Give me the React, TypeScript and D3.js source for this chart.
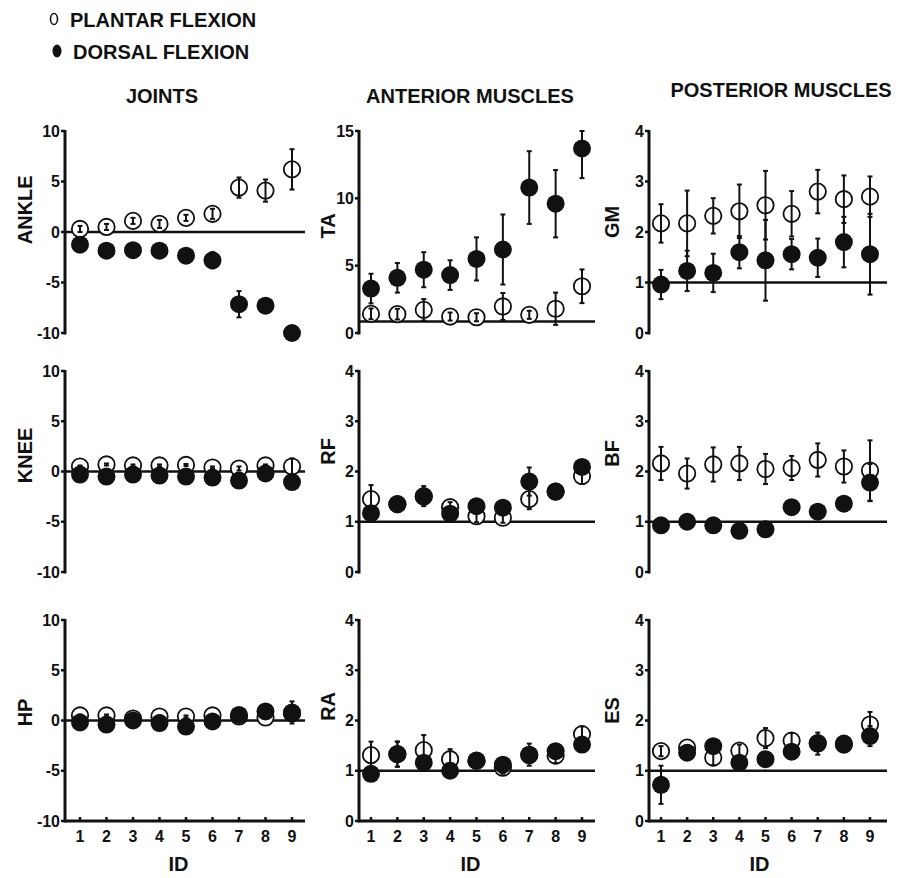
import React from 'react';
import * as d3 from 'd3';

// subject ids on the x axis
const ids = [1, 2, 3, 4, 5, 6, 7, 8, 9];

// JOINTS (deg)
const ankleOpen = [0.3, 0.5, 1.1, 0.8, 1.4, 1.8, 4.4, 4.1, 6.2];
const ankleOpenErr = [0.3, 0.3, 0.3, 0.4, 0.3, 0.5, 1.0, 1.1, 2.0];
const ankleFilled = [-1.25, -1.85, -1.8, -1.85, -2.35, -2.8, -7.15, -7.3, -10.0];
const ankleFilledErr = [0.2, 0.2, 0.2, 0.2, 0.2, 0.8, 1.3, 0.2, 0.2];

const kneeOpen = [0.5, 0.7, 0.6, 0.6, 0.65, 0.4, 0.3, 0.6, 0.5];
const kneeOpenErr = [0.1, 0.1, 0.1, 0.1, 0.1, 0.1, 0.2, 0.1, 0.8];
const kneeFilled = [-0.3, -0.5, -0.3, -0.4, -0.5, -0.6, -0.9, -0.2, -1.05];
const kneeFilledErr = [0.1, 0.4, 0.3, 0.2, 0.4, 0.1, 0.2, 0.3, 0.7];

const hipOpen = [0.5, 0.5, 0.2, 0.4, 0.4, 0.5, 0.4, 0.3, 0.7];
const hipOpenErr = [0.1, 0.1, 0.1, 0.1, 0.1, 0.1, 0.1, 0.1, 0.1];
const hipFilled = [-0.2, -0.4, 0.0, -0.25, -0.6, -0.1, 0.55, 0.9, 0.8];
const hipFilledErr = [0.1, 0.1, 0.1, 0.1, 0.1, 0.1, 0.1, 0.2, 1.1];

// ANTERIOR MUSCLES
const taOpen = [1.42, 1.4, 1.72, 1.22, 1.17, 1.97, 1.35, 1.8, 3.47];
const taOpenErr = [0.4, 0.4, 0.8, 0.3, 0.3, 1.0, 0.3, 1.2, 1.25];
const taFilled = [3.3, 4.1, 4.7, 4.3, 5.5, 6.2, 10.8, 9.6, 13.7];
const taFilledErr = [1.1, 1.1, 1.3, 1.1, 1.6, 2.6, 2.7, 2.5, 2.2];

const rfOpen = [1.45, 1.35, 1.5, 1.29, 1.11, 1.08, 1.45, 1.6, 1.91];
const rfOpenErr = [0.28, 0.05, 0.05, 0.1, 0.12, 0.1, 0.2, 0.05, 0.16];
const rfFilled = [1.17, 1.35, 1.51, 1.16, 1.31, 1.28, 1.8, 1.6, 2.09];
const rfFilledErr = [0.1, 0.05, 0.2, 0.05, 0.05, 0.05, 0.28, 0.05, 0.05];

const raOpen = [1.31, 1.33, 1.41, 1.23, 1.2, 1.06, 1.31, 1.3, 1.73];
const raOpenErr = [0.27, 0.25, 0.3, 0.2, 0.1, 0.12, 0.1, 0.15, 0.15];
const raFilled = [0.94, 1.33, 1.16, 1.0, 1.2, 1.12, 1.32, 1.39, 1.52];
const raFilledErr = [0.05, 0.25, 0.1, 0.05, 0.05, 0.05, 0.22, 0.05, 0.05];

// POSTERIOR MUSCLES
const gmOpen = [2.17, 2.17, 2.32, 2.41, 2.53, 2.36, 2.8, 2.65, 2.7];
const gmOpenErr = [0.38, 0.65, 0.35, 0.53, 0.68, 0.45, 0.43, 0.47, 0.4];
const gmFilled = [0.96, 1.23, 1.19, 1.6, 1.44, 1.56, 1.49, 1.8, 1.56];
const gmFilledErr = [0.29, 0.4, 0.38, 0.32, 0.8, 0.3, 0.38, 0.5, 0.8];

const bfOpen = [2.16, 1.96, 2.14, 2.16, 2.05, 2.07, 2.23, 2.1, 2.02];
const bfOpenErr = [0.33, 0.3, 0.34, 0.33, 0.3, 0.24, 0.33, 0.32, 0.6];
const bfFilled = [0.93, 1.0, 0.93, 0.82, 0.85, 1.29, 1.2, 1.36, 1.78];
const bfFilledErr = [0.05, 0.05, 0.05, 0.05, 0.05, 0.05, 0.05, 0.05, 0.37];

const esOpen = [1.39, 1.46, 1.26, 1.4, 1.65, 1.6, 1.55, 1.52, 1.92];
const esOpenErr = [0.1, 0.05, 0.15, 0.12, 0.2, 0.15, 0.05, 0.05, 0.25];
const esFilled = [0.72, 1.36, 1.49, 1.16, 1.23, 1.38, 1.54, 1.54, 1.69];
const esFilledErr = [0.38, 0.05, 0.05, 0.05, 0.05, 0.05, 0.22, 0.05, 0.2];

const columnTitles = ['JOINTS', 'ANTERIOR MUSCLES', 'POSTERIOR MUSCLES'];
const legendLabels = ['PLANTAR FLEXION', 'DORSAL FLEXION'];

type Panel = {
  name: string;
  col: number;
  row: number;
  domain: [number, number];
  ticks: number[];
  ref: number;
  open: number[];
  openErr: number[];
  filled: number[];
  filledErr: number[];
};

const jointTicks = [-10, -5, 0, 5, 10];
const muscleTicks = [0, 1, 2, 3, 4];

const panels: Panel[] = [
  { name: 'ANKLE', col: 0, row: 0, domain: [-10, 10], ticks: jointTicks, ref: 0, open: ankleOpen, openErr: ankleOpenErr, filled: ankleFilled, filledErr: ankleFilledErr },
  { name: 'KNEE', col: 0, row: 1, domain: [-10, 10], ticks: jointTicks, ref: 0, open: kneeOpen, openErr: kneeOpenErr, filled: kneeFilled, filledErr: kneeFilledErr },
  { name: 'HP', col: 0, row: 2, domain: [-10, 10], ticks: jointTicks, ref: 0, open: hipOpen, openErr: hipOpenErr, filled: hipFilled, filledErr: hipFilledErr },
  { name: 'TA', col: 1, row: 0, domain: [0, 15], ticks: [0, 5, 10, 15], ref: 0.85, open: taOpen, openErr: taOpenErr, filled: taFilled, filledErr: taFilledErr },
  { name: 'RF', col: 1, row: 1, domain: [0, 4], ticks: muscleTicks, ref: 1, open: rfOpen, openErr: rfOpenErr, filled: rfFilled, filledErr: rfFilledErr },
  { name: 'RA', col: 1, row: 2, domain: [0, 4], ticks: muscleTicks, ref: 1, open: raOpen, openErr: raOpenErr, filled: raFilled, filledErr: raFilledErr },
  { name: 'GM', col: 2, row: 0, domain: [0, 4], ticks: muscleTicks, ref: 1, open: gmOpen, openErr: gmOpenErr, filled: gmFilled, filledErr: gmFilledErr },
  { name: 'BF', col: 2, row: 1, domain: [0, 4], ticks: muscleTicks, ref: 1, open: bfOpen, openErr: bfOpenErr, filled: bfFilled, filledErr: bfFilledErr },
  { name: 'ES', col: 2, row: 2, domain: [0, 4], ticks: muscleTicks, ref: 1, open: esOpen, openErr: esOpenErr, filled: esFilled, filledErr: esFilledErr },
];

// layout (pixels)
const cols = [
  { axisX: 65, x1: 80, x9: 292, xEnd: 305, labelX: 25 },
  { axisX: 359, x1: 371, x9: 582, xEnd: 595, labelX: 328 },
  { axisX: 649, x1: 661, x9: 870, xEnd: 887, labelX: 612 },
];
const rows = [
  { top: 131, bottom: 333 },
  { top: 371, bottom: 572 },
  { top: 620, bottom: 821 },
];
const labelFrac: Record<string, number> = {
  ANKLE: 0.39, KNEE: 0.42, HP: 0.46, TA: 0.47, RF: 0.4, RA: 0.43, GM: 0.45, BF: 0.41, ES: 0.45,
};
const titlePos = [
  { x: 162, y: 103 },
  { x: 470, y: 103 },
  { x: 781, y: 97 },
];

const FONT = '"Liberation Sans", Arial, Helvetica, sans-serif';
const R = 9;

const PanelChart = ({ p }: { p: Panel }) => {
  const c = cols[p.col];
  const r = rows[p.row];
  const x = d3.scaleLinear().domain([1, 9]).range([c.x1, c.x9]);
  const y = d3.scaleLinear().domain(p.domain).range([r.bottom, r.top]);
  const isBottom = p.row === 2;
  const labelY = r.top + (r.bottom - r.top) * labelFrac[p.name];
  const clamp = (v: number) => Math.max(p.domain[0], Math.min(p.domain[1], v));

  const bar = (i: number, v: number, e: number, key: string) => {
    const lo = y(clamp(v - e));
    const hi = y(clamp(v + e));
    const cx = x(ids[i]);
    return (
      <g key={key}>
        <line x1={cx} x2={cx} y1={lo} y2={hi} stroke="#111" strokeWidth={2} />
        <line x1={cx - 2.5} x2={cx + 2.5} y1={lo} y2={lo} stroke="#111" strokeWidth={2} />
        <line x1={cx - 2.5} x2={cx + 2.5} y1={hi} y2={hi} stroke="#111" strokeWidth={2} />
      </g>
    );
  };

  return (
    <g>
      {/* reference line */}
      <line x1={c.axisX} x2={c.xEnd} y1={y(p.ref)} y2={y(p.ref)} stroke="#111" strokeWidth={2.5} />
      {/* y axis */}
      <line x1={c.axisX} x2={c.axisX} y1={y(p.domain[0]) + 1.5} y2={y(p.domain[1]) - 1} stroke="#111" strokeWidth={3} />
      {p.ticks.map((t) => (
        <g key={t}>
          <line x1={c.axisX - 4} x2={c.axisX} y1={y(t)} y2={y(t)} stroke="#111" strokeWidth={2.5} />
          <text x={c.axisX - 5} y={y(t) + 5.5} textAnchor="end" fontSize={16} fontWeight="bold" fontFamily={FONT} fill="#111">
            {t}
          </text>
        </g>
      ))}
      {/* x axis on bottom row */}
      {isBottom && (
        <g>
          <line x1={c.axisX} x2={c.xEnd} y1={r.bottom} y2={r.bottom} stroke="#111" strokeWidth={3} />
          {ids.map((id) => (
            <g key={id}>
              <line x1={x(id)} x2={x(id)} y1={r.bottom} y2={r.bottom - 4} stroke="#111" strokeWidth={2.5} />
              <text x={x(id)} y={r.bottom + 21} textAnchor="middle" fontSize={16} fontWeight="bold" fontFamily={FONT} fill="#111">
                {id}
              </text>
            </g>
          ))}
          <text x={(c.axisX + c.x9) / 2} y={r.bottom + 50} textAnchor="middle" fontSize={20} fontWeight="bold" fontFamily={FONT} fill="#111">
            ID
          </text>
        </g>
      )}
      {/* axis label */}
      <text
        transform={`translate(${c.labelX + 7},${labelY}) rotate(-90)`}
        textAnchor="middle"
        fontSize={20}
        fontWeight="bold"
        fontFamily={FONT}
        fill="#111"
      >
        {p.name}
      </text>
      {/* plantar flexion (open) */}
      {p.open.map((v, i) => (
        <circle key={'o' + i} cx={x(ids[i])} cy={y(v)} r={R - 0.8} fill="#fff" stroke="#111" strokeWidth={1.8} />
      ))}
      {p.open.map((v, i) => bar(i, v, p.openErr[i], 'ob' + i))}
      {p.filled.map((v, i) => bar(i, v, p.filledErr[i], 'fb' + i))}
      {/* dorsal flexion (filled) */}
      {p.filled.map((v, i) => (
        <circle key={'f' + i} cx={x(ids[i])} cy={y(v)} r={R} fill="#111" />
      ))}
    </g>
  );
};

export default function App() {
  return (
    <svg width={900} height={878} style={{ display: 'block', position: 'absolute', left: 0, top: 0, background: '#fff' }}>
      <rect width={900} height={878} fill="#fff" />
      {/* legend */}
      <ellipse cx={54} cy={19} rx={3.5} ry={5.5} fill="#fff" stroke="#111" strokeWidth={1.6} />
      <text x={70} y={27} fontSize={20} fontWeight="bold" fontFamily={FONT} fill="#111">
        {legendLabels[0]}
      </text>
      <ellipse cx={57} cy={51} rx={4.5} ry={6.5} fill="#111" />
      <text x={73} y={59} fontSize={20} fontWeight="bold" fontFamily={FONT} fill="#111">
        {legendLabels[1]}
      </text>
      {columnTitles.map((t, i) => (
        <text key={t} x={titlePos[i].x} y={titlePos[i].y} textAnchor="middle" fontSize={20} fontWeight="bold" fontFamily={FONT} fill="#111">
          {t}
        </text>
      ))}
      {panels.map((p) => (
        <PanelChart key={p.name} p={p} />
      ))}
    </svg>
  );
}
